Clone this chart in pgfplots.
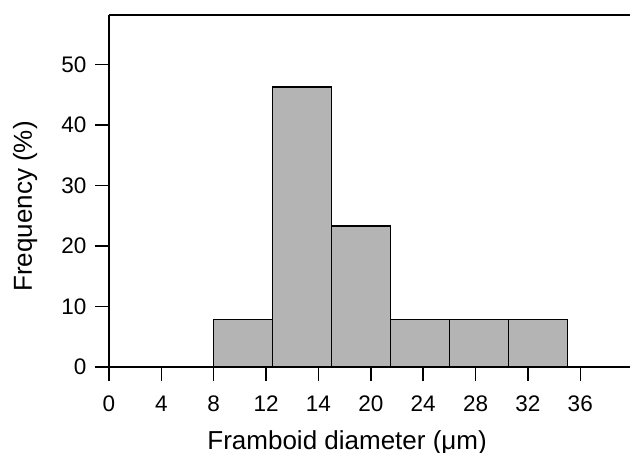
\documentclass[border=0pt]{standalone}
\usepackage{pgfplots}
\pgfplotsset{compat=1.18}
\usepackage{fontspec}
\setmainfont{Liberation Sans}
\definecolor{barfill}{RGB}{180,180,180}

\begin{document}
\begin{tikzpicture}
\begin{axis}[
    scale only axis,
    width=521pt, height=352pt,
    xmin=0, xmax=39.8,
    ymin=0, ymax=58.2,
    axis x line*=bottom,
    axis y line*=left,
    axis line style={-, line width=1.5pt, black},
    clip=false,
    xtick={0,4,8,12,16,20,24,28,32,36},
    xticklabels={0,4,8,12,14,20,24,28,32,36},
    ytick={0,10,20,30,40,50},
    tick align=outside,
    major tick length=14pt,
    tick style={line width=1.5pt, black},
    xticklabel style={font=\fontsize{22.5}{27}\selectfont, yshift=-11pt},
    yticklabel style={font=\fontsize{22.5}{27}\selectfont, xshift=-5pt},
    /pgf/number format/assume math mode=true,
]
% histogram bins (left edges), last point closes the final bin
\addplot[ybar interval, fill=barfill, draw=black, line width=1.2pt] coordinates {
    (8,7.9)
    (12.5,46.3)
    (17,23.3)
    (21.5,7.9)
    (26,7.9)
    (30.5,7.9)
    (35,7.9)
};
\draw[line width=1.5pt] (rel axis cs:0,1) -- (rel axis cs:1,1);
\coordinate (ll) at (rel axis cs:0,0);
\coordinate (ur) at (rel axis cs:1,1);
\coordinate (xl) at (rel axis cs:0.457,0);
\coordinate (yl) at (rel axis cs:0,0.456);
\end{axis}
\node[anchor=base, font=\fontsize{26}{31}\selectfont] at ([yshift=-82pt]xl) {Framboid diameter (μm)};
\node[anchor=base, rotate=90, font=\fontsize{26}{31}\selectfont] at ([xshift=-77pt]yl) {Frequency (\%)};
\pgfresetboundingbox
\path ([shift={(-109pt,-86pt)}]ll) rectangle ([shift={(0pt,15pt)}]ur);
\end{tikzpicture}
\end{document}
